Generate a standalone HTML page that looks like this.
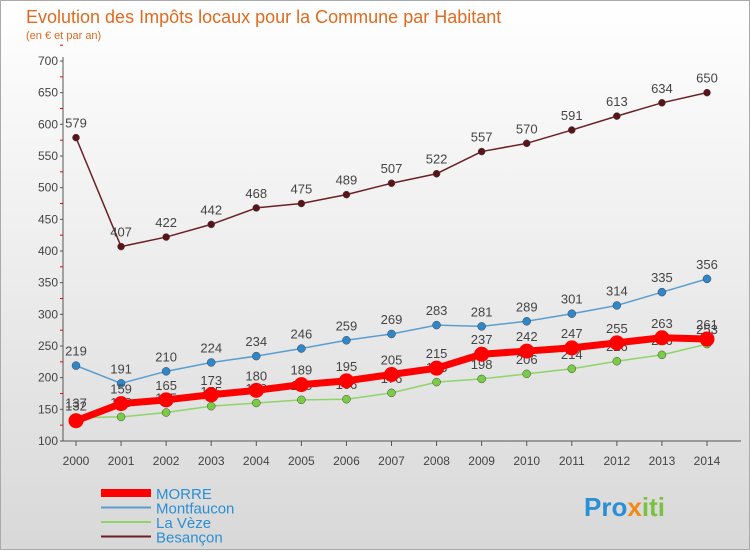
<!DOCTYPE html>
<html><head><meta charset="utf-8"><style>
body{margin:0;width:750px;height:550px;overflow:hidden;font-family:"Liberation Sans",sans-serif;}
#wrap{position:relative;width:748px;height:548px;border:1px solid #aaa;background:linear-gradient(#fff 0%,#f0f0f0 40%,#d8d8d8 100%);}
</style></head><body>
<div id="wrap">
<svg id="c" width="748" height="548" xmlns="http://www.w3.org/2000/svg">
<text x="25" y="22" font-size="18" fill="#e06a1e">Evolution des Impôts locaux pour la Commune par Habitant</text>
<text x="25" y="38" font-size="11" fill="#e06a1e">(en € et par an)</text>
<g id="grid"></g><g id="series"></g><g id="legend"></g>
<text x="583" y="515" font-size="26" font-weight="bold" fill="#2a8fd6">Pro<tspan fill="#f28a1a">x</tspan><tspan fill="#7ac143">iti</tspan></text>
</svg></div>
<script>
const years=[2000,2001,2002,2003,2004,2005,2006,2007,2008,2009,2010,2011,2012,2013,2014];
const morre=[132,159,165,173,180,189,195,205,215,237,242,247,255,263,261];
const montfaucon=[219,191,210,224,234,246,259,269,283,281,289,301,314,335,356];
const laveze=[137,138,145,155,160,165,166,176,193,198,206,214,226,236,253];
const besancon=[579,407,422,442,468,475,489,507,522,557,570,591,613,634,650];
const yTicks=[100,150,200,250,300,350,400,450,500,550,600,650,700];
const NS="http://www.w3.org/2000/svg";
function X(i){return 75+i*(706-75)/(years.length-1);}
function Y(v){return 440-(v-100)*380/600;}
function mk(t,a,p){const e=document.createElementNS(NS,t);for(const k in a)e.setAttribute(k,a[k]);p.appendChild(e);return e;}
const g=document.getElementById('grid');
mk('line',{x1:62,y1:56,x2:62,y2:440,stroke:'#555'},g);
mk('line',{x1:62,y1:440,x2:740,y2:440,stroke:'#555'},g);
yTicks.forEach(v=>{const t=mk('text',{x:57,y:Y(v)+4,'font-size':12,fill:'#444','text-anchor':'end'},g);t.textContent=v;


mk('line',{x1:59,y1:Y(v),x2:62,y2:Y(v),stroke:'#555'},g);
mk('line',{x1:59,y1:Y(v+25),x2:62,y2:Y(v+25),stroke:'#e00'},g);});
years.forEach((y,i)=>{const t=mk('text',{x:X(i),y:464,'font-size':12,fill:'#444','text-anchor':'middle'},g);t.textContent=y;


mk('line',{x1:X(i),y1:440,x2:X(i),y2:445,stroke:'#555'},g);});
const s=document.getElementById('series');
function draw(name,data,col,w,r,dot){const gg=mk('g',{},s);


mk('polyline',{points:data.map((v,i)=>X(i)+','+Y(v)).join(' '),fill:'none',stroke:col,'stroke-width':w,'stroke-linejoin':'round'},gg);
data.forEach((v,i)=>{const c=mk('circle',{cx:X(i),cy:Y(v),r:r,fill:dot,stroke:'#444','stroke-width':r>5?0:0.5},gg);


const t=mk('text',{x:X(i),y:Y(v)-10,'font-size':13,fill:'#444','text-anchor':'middle'},gg);t.textContent=v;

});}
draw('la-veze',laveze,'#8ed468',1.5,4,'#7acc44');
draw('montfaucon',montfaucon,'#5a9ed0',1.5,4,'#2f86c8');
draw('besancon',besancon,'#6b2025',1.5,3.5,'#5a1418');
draw('morre',morre,'#f00',7,7.5,'#f00');
const L=document.getElementById('legend');
[['MORRE','#f00',8],['Montfaucon','#5a9ed0',2],['La Vèze','#8ed468',2],['Besançon','#6b2025',2]].forEach((e,i)=>{
const y=492+i*14.5;mk('line',{x1:100,y1:y,x2:150,y2:y,stroke:e[1],'stroke-width':e[2]},L);
const t=mk('text',{x:155,y:y+6,'font-size':15,fill:'#2a8fd6'},L);t.textContent=e[0];

});
</script>
</body></html>
